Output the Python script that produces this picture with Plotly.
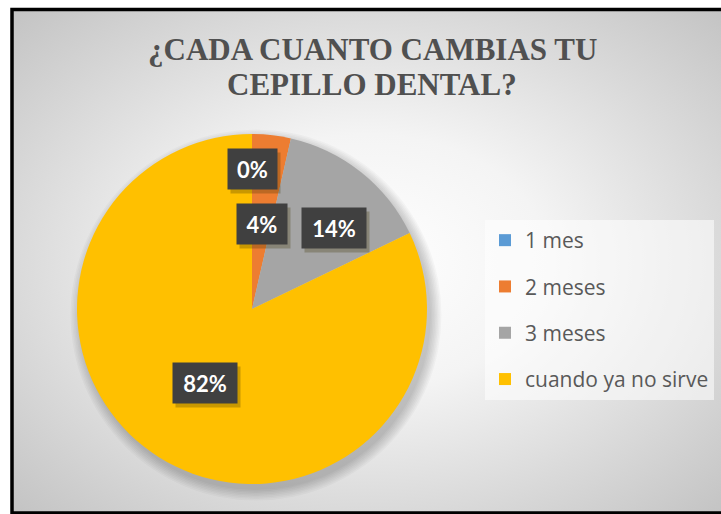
import math
import base64
import plotly.graph_objects as go

# ---------------- data ----------------
categories = ["1 mes", "2 meses", "3 meses", "cuando ya no sirve"]
values = [0, 1, 4, 23]
pct_labels = ["0%", "4%", "14%", "82%"]
colors = ["#5B9BD5", "#ED7D31", "#A5A5A5", "#FFC000"]
title_lines = ["¿CADA CUANTO CAMBIAS TU", "CEPILLO DENTAL?"]

# ---------------- layout helpers ----------------
W, H = 721, 514


def px(x):
    return x / W


def py(y):
    return 1 - y / H


# pie geometry (pixels)
CX, CY, R = 252, 309, 175

# data label placement (radius fraction, angle nudge in degrees, box width)
label_rfrac = [0.80, 0.49, 0.66, 0.50]
label_nudge = [0, 0, 7, 0]
label_boxw = [49, 50, 64, 64]
label_boxh = 40

fig = go.Figure()

fig.add_trace(go.Pie(
    labels=categories,
    values=values,
    marker=dict(colors=colors, line=dict(width=0)),
    sort=False,
    direction="clockwise",
    rotation=0,
    textinfo="none",
    hoverinfo="label+value+percent",
    showlegend=False,
    domain=dict(x=[px(CX - R), px(CX + R)], y=[py(CY + R), py(CY - R)]),
))

# legend via dummy traces (allows Excel-like spacing)
for cat, col in zip(categories, colors):
    fig.add_trace(go.Scatter(
        x=[None], y=[None], mode="markers", name=cat, legendgroup=cat,
        marker=dict(symbol="square", size=13, color=col),
        showlegend=True, hoverinfo="skip",
    ))

# ---------------- background (radial gradient) ----------------
svg = (
    '<svg xmlns="http://www.w3.org/2000/svg" width="710" height="502" '
    'preserveAspectRatio="none" viewBox="0 0 710 502">'
    '<defs><radialGradient id="g" cx="0.5" cy="0.5" r="0.72">'
    '<stop offset="0" stop-color="#ffffff"/>'
    '<stop offset="0.35" stop-color="#f4f4f4"/>'
    '<stop offset="1" stop-color="#c2c2c2"/>'
    '</radialGradient></defs>'
    '<rect x="0" y="0" width="710" height="502" fill="url(#g)"/></svg>'
)
src = "data:image/svg+xml;base64," + base64.b64encode(svg.encode()).decode()

images = [dict(
    source=src, xref="paper", yref="paper",
    x=px(13), y=py(10), sizex=px(724) - px(13), sizey=py(10) - py(512),
    xanchor="left", yanchor="top", sizing="stretch", layer="below",
)]

shapes = []
# soft pie shadow (offset down-right)
for i in range(8):
    rr = R + i * 1.5
    shapes.append(dict(
        type="circle", xref="paper", yref="paper", layer="below",
        x0=px(CX + 4 - rr), x1=px(CX + 4 + rr),
        y0=py(CY + 6 + rr), y1=py(CY + 6 - rr),
        fillcolor="rgba(0,0,0,0.028)", line=dict(width=0),
    ))
# chart border
shapes.append(dict(
    type="rect", xref="paper", yref="paper",
    x0=px(12), x1=px(740), y0=py(513), y1=py(9.5),
    line=dict(color="#000000", width=3.5), fillcolor="rgba(0,0,0,0)",
))

annotations = []
# title
title_y = [50, 85]
for line, ty in zip(title_lines, title_y):
    annotations.append(dict(
        text="<b>" + line + "</b>", xref="paper", yref="paper",
        x=px(372), y=py(ty), xanchor="center", yanchor="middle",
        showarrow=False,
        font=dict(family="Liberation Serif", size=31, color="#505050"),
    ))

# data labels computed from slice angles
total = sum(values)
cum = 0
for v, lab, rf, nd, bw in zip(values, pct_labels, label_rfrac, label_nudge, label_boxw):
    mid = (cum + v / 2) / total * 360 + nd
    cum += v
    lx = CX + R * rf * math.sin(math.radians(mid))
    ly = CY - R * rf * math.cos(math.radians(mid))
    # shadow
    annotations.append(dict(
        text="", xref="paper", yref="paper", x=px(lx + 3), y=py(ly + 4),
        xanchor="center", yanchor="middle", showarrow=False,
        width=bw, height=label_boxh, borderpad=0,
        bgcolor="rgba(60,50,0,0.28)",
    ))
    annotations.append(dict(
        text="<b>" + lab + "</b>", xref="paper", yref="paper",
        x=px(lx), y=py(ly), xanchor="center", yanchor="middle",
        showarrow=False, width=bw, height=label_boxh, borderpad=0,
        bgcolor="#404040",
        font=dict(family="Lato", size=22, color="#ffffff"),
    ))

fig.update_layout(
    width=W, height=H,
    margin=dict(l=0, r=0, t=0, b=0),
    paper_bgcolor="#ffffff",
    plot_bgcolor="rgba(0,0,0,0)",
    xaxis=dict(visible=False),
    yaxis=dict(visible=False),
    images=images,
    shapes=shapes,
    annotations=annotations,
    showlegend=True,
    legend=dict(
        x=px(485), y=py(220), xanchor="left", yanchor="top",
        bgcolor="rgba(255,255,255,0.55)",
        font=dict(family="Open Sans", size=21, color="#595959"),
        tracegroupgap=16, itemsizing="constant", borderwidth=0,
    ),
)

fig.write_html("out.html")
